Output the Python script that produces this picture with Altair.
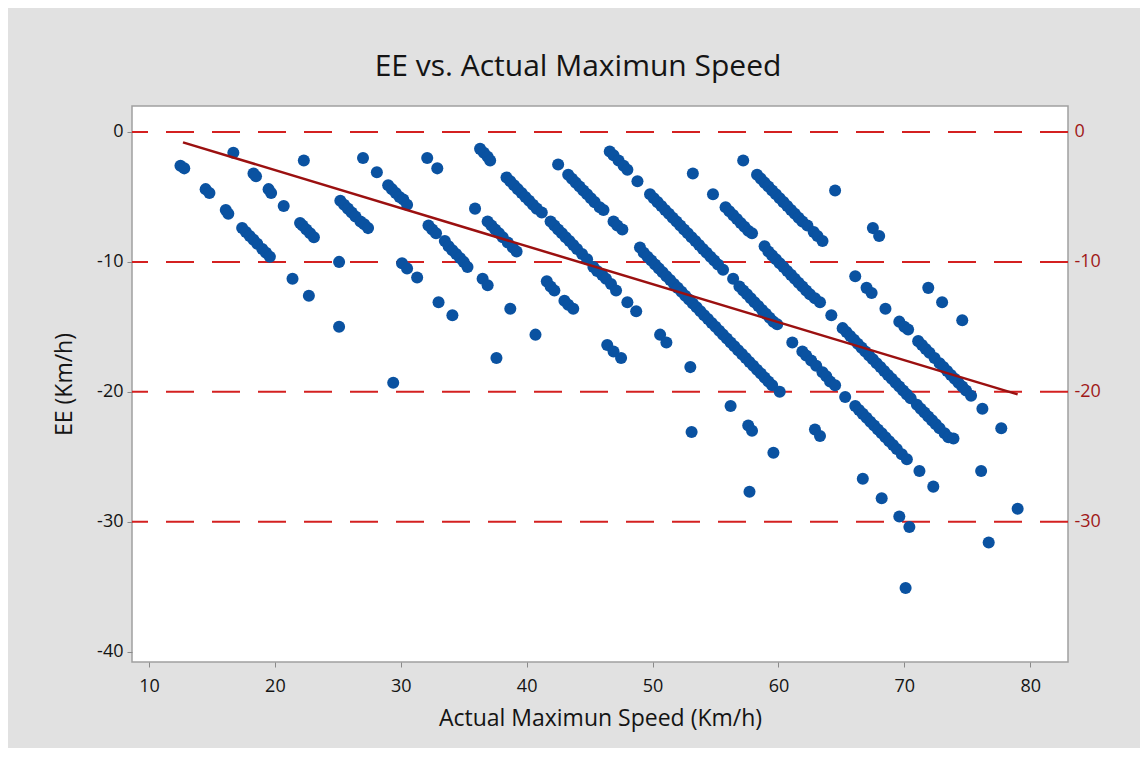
import altair as alt
import pandas as pd

# ---- data (x = actual max speed, y = EE) ----
band10_x = [12.5, 12.8, 14.5, 14.8, 16.1, 16.3, 17.4, 17.7, 18.0, 18.3, 18.6, 19.0, 19.3, 19.6, 21.4, 22.7, 25.1, 29.4]
band10_y = [-2.6, -2.8, -4.4, -4.7, -6.0, -6.3, -7.4, -7.7, -8.0, -8.3, -8.6, -9.0, -9.3, -9.6, -11.3, -12.6, -15.0, -19.3]

band15_x = [16.7, 18.3, 18.5, 19.5, 19.7, 20.7, 22.0, 22.2, 22.5, 22.8, 23.1, 25.1]
band15_y = [-1.6, -3.2, -3.4, -4.4, -4.7, -5.7, -7.0, -7.2, -7.5, -7.8, -8.1, -10.0]

band20_x = [22.3, 25.2, 25.5, 25.8, 26.1, 26.4, 26.8, 27.1, 27.4, 30.1, 30.5, 31.3, 33.0, 34.1, 37.6]
band20_y = [-2.2, -5.3, -5.6, -5.9, -6.2, -6.5, -6.9, -7.1, -7.4, -10.1, -10.5, -11.2, -13.1, -14.1, -17.4]

band25_x = [27.0, 28.1, 29.0, 29.3, 29.6, 29.9, 30.2, 30.5, 32.2, 32.5, 32.8, 33.5, 33.8, 34.1, 34.4, 34.7, 35.0, 35.3, 36.5, 36.9, 38.7, 40.7]
band25_y = [-2.0, -3.1, -4.1, -4.4, -4.7, -5.0, -5.2, -5.6, -7.2, -7.5, -7.8, -8.4, -8.8, -9.1, -9.4, -9.7, -10.0, -10.4, -11.3, -11.8, -13.6, -15.6]

band30_x = [32.1, 32.9, 35.9, 36.9, 37.2, 37.5, 37.8, 38.1, 38.5, 38.9, 39.2, 41.6, 41.9, 42.2, 43.0, 43.3, 43.7, 46.4, 46.9, 47.5, 53.1, 57.7]
band30_y = [-2.0, -2.8, -5.9, -6.9, -7.2, -7.5, -7.8, -8.1, -8.5, -8.9, -9.2, -11.5, -11.9, -12.2, -13.0, -13.3, -13.6, -16.4, -16.9, -17.4, -23.1, -27.7]

band35_x = [36.3, 36.6, 36.9, 37.1, 38.4, 38.7, 39.0, 39.3, 39.6, 39.9, 40.2, 40.5, 40.8, 41.2,
            41.9, 42.2, 42.5, 42.8, 43.1, 43.4, 43.7, 44.0, 44.4, 44.8, 45.3, 45.6, 46.0, 46.3, 46.7, 47.1,
            48.0, 48.7, 50.6, 51.1, 53.0, 56.2, 57.6, 57.9, 59.6, 70.1]
band35_y = [-1.3, -1.6, -1.9, -2.2, -3.5, -3.8, -4.1, -4.4, -4.7, -5.0, -5.3, -5.6, -5.9, -6.2,
            -6.9, -7.2, -7.5, -7.8, -8.1, -8.4, -8.7, -9.0, -9.4, -9.8, -10.4, -10.7, -11.0, -11.3, -11.7, -12.2,
            -13.1, -13.8, -15.6, -16.2, -18.1, -21.1, -22.6, -23.0, -24.7, -35.1]

band40_x = [42.5, 43.3, 43.6, 43.9, 44.2, 44.5, 44.8, 45.1, 45.4, 45.8, 46.1, 46.9, 47.2, 47.6,
            49.0, 49.3, 49.6, 49.9, 50.2, 50.5, 50.8, 51.1, 51.4, 51.7, 52.0, 52.3, 52.6, 52.9, 53.2,
            53.5, 53.8, 54.1, 54.4, 54.7, 55.0, 55.3, 55.6, 55.9, 56.2, 56.5, 56.8, 57.1, 57.4, 57.7,
            58.0, 58.3, 58.6, 58.9, 59.2, 59.5, 60.1, 62.9, 63.3, 66.7, 68.2, 69.6, 70.4]
band40_y = [-2.5, -3.3, -3.6, -3.9, -4.2, -4.5, -4.8, -5.1, -5.4, -5.8, -6.0, -6.9, -7.2, -7.5,
            -8.9, -9.3, -9.6, -9.9, -10.2, -10.5, -10.8, -11.1, -11.4, -11.7, -12.0, -12.3, -12.6, -12.9, -13.2,
            -13.5, -13.8, -14.1, -14.4, -14.7, -15.0, -15.3, -15.6, -15.9, -16.2, -16.5, -16.8, -17.1, -17.4, -17.7,
            -18.0, -18.3, -18.6, -18.9, -19.2, -19.5, -20.0, -22.9, -23.4, -26.7, -28.2, -29.6, -30.4]

band45_x = [46.6, 46.9, 47.3, 47.7, 48.0, 48.8,
            49.8, 50.1, 50.4, 50.7, 51.0, 51.3, 51.6, 51.9, 52.2, 52.5, 52.8, 53.1, 53.4, 53.7, 54.0,
            54.3, 54.6, 54.9, 55.2, 55.6, 56.4, 56.9, 57.2, 57.5, 57.8, 58.1, 58.4, 58.7, 59.0, 59.3,
            59.6, 59.9, 61.1, 61.9, 62.2, 62.6, 63.0, 63.5, 63.8, 64.1, 64.5, 65.3, 66.1, 66.4, 66.7,
            67.0, 67.3, 67.6, 67.9, 68.2, 68.5, 68.8, 69.1, 69.4, 69.8, 70.2, 71.2, 72.3, 76.7]
band45_y = [-1.5, -1.8, -2.2, -2.6, -2.9, -3.8,
            -4.8, -5.1, -5.4, -5.7, -6.0, -6.3, -6.6, -6.9, -7.2, -7.5, -7.8, -8.1, -8.4, -8.7, -9.0,
            -9.3, -9.6, -9.9, -10.2, -10.6, -11.3, -11.9, -12.2, -12.5, -12.8, -13.1, -13.4, -13.7, -14.0, -14.3,
            -14.6, -14.8, -16.2, -16.9, -17.2, -17.6, -18.0, -18.5, -18.8, -19.2, -19.5, -20.4, -21.1, -21.4, -21.7,
            -22.0, -22.3, -22.6, -22.9, -23.2, -23.5, -23.8, -24.1, -24.4, -24.8, -25.2, -26.1, -27.3, -31.6]

band50_x = [53.2, 54.8, 55.8, 56.1, 56.4, 56.7, 57.0, 57.3, 57.6, 57.9,
            58.9, 59.2, 59.5, 59.8, 60.1, 60.4, 60.7, 61.0, 61.3, 61.6, 61.9, 62.2, 62.5, 62.9, 63.3, 64.2,
            65.1, 65.4, 65.7, 66.0, 66.3, 66.6, 66.9, 67.2, 67.5, 67.8, 68.1, 68.4, 68.7, 69.0, 69.3,
            69.6, 69.9, 70.2, 70.5, 71.0, 71.3, 71.6, 71.9, 72.2, 72.5, 72.8, 73.2, 73.5, 73.9, 76.1, 79.0]
band50_y = [-3.2, -4.8, -5.8, -6.1, -6.4, -6.7, -7.0, -7.3, -7.6, -7.8,
            -8.8, -9.2, -9.5, -9.8, -10.1, -10.4, -10.7, -11.0, -11.3, -11.6, -11.9, -12.2, -12.5, -12.8, -13.1, -14.1,
            -15.1, -15.4, -15.7, -16.0, -16.3, -16.6, -16.9, -17.2, -17.5, -17.8, -18.1, -18.4, -18.7, -19.0, -19.3,
            -19.6, -19.9, -20.2, -20.5, -21.0, -21.3, -21.6, -21.9, -22.2, -22.5, -22.8, -23.2, -23.5, -23.6, -26.1, -29.0]

band55_x = [57.2, 58.3, 58.6, 58.9, 59.2, 59.5, 59.8, 60.1, 60.4, 60.7, 61.0, 61.3, 61.6, 61.9, 62.3,
            62.8, 63.1, 63.5, 66.1, 67.0, 67.4, 68.5, 69.6, 70.0, 70.3, 71.1, 71.4, 71.7, 72.0, 72.4,
            72.8, 73.1, 73.4, 73.7, 74.0, 74.3, 74.6, 74.9, 75.3, 76.2, 77.7]
band55_y = [-2.2, -3.3, -3.6, -3.9, -4.2, -4.5, -4.8, -5.1, -5.4, -5.7, -6.0, -6.3, -6.6, -6.9, -7.2,
            -7.7, -8.0, -8.4, -11.1, -12.0, -12.4, -13.6, -14.6, -15.0, -15.2, -16.1, -16.4, -16.7, -17.0, -17.4,
            -17.8, -18.1, -18.4, -18.7, -19.0, -19.3, -19.6, -19.9, -20.3, -21.3, -22.8]

band60_x = [64.5, 67.5, 68.0, 71.9, 73.0, 74.6]
band60_y = [-4.5, -7.4, -8.0, -12.0, -13.1, -14.5]

# fitted regression line end points
fit_x = [12.7, 79.0]
fit_y = [-0.8, -20.2]

# reference lines
ref_levels = [0, -10, -20, -30]
x_ticks = [10, 20, 30, 40, 50, 60, 70, 80]
y_ticks = [0, -10, -20, -30, -40]

all_x = (band10_x + band15_x + band20_x + band25_x + band30_x + band35_x +
         band40_x + band45_x + band50_x + band55_x + band60_x)
all_y = (band10_y + band15_y + band20_y + band25_y + band30_y + band35_y +
         band40_y + band45_y + band50_y + band55_y + band60_y)

pts = pd.DataFrame({"speed": all_x, "ee": all_y})
fit = pd.DataFrame({"speed": fit_x, "ee": fit_y})
refs = pd.DataFrame({"ee": ref_levels})

X_DOM = [8.65, 83.0]
Y_DOM = [-40.8, 2.0]
FONT = "Open Sans"
TXT = "#141414"

xscale = alt.Scale(domain=X_DOM, nice=False, zero=False)
yscale = alt.Scale(domain=Y_DOM, nice=False, zero=False)

x_axis = alt.Axis(values=x_ticks, title="Actual Maximun Speed (Km/h)", grid=False,
                  domain=False, tickColor="#8A8A8A", tickSize=5,
                  labelFontSize=18, labelFont=FONT, labelColor=TXT,
                  labelPadding=10, titleFontSize=23, titleFont=FONT,
                  titleFontWeight=500, titleColor=TXT, titlePadding=12)

ref_layer = alt.Chart(refs).mark_rule(
    color="#D42020", strokeWidth=2, strokeDash=[28, 18]
).encode(
    y=alt.Y("ee:Q", scale=yscale,
            axis=alt.Axis(orient="right", values=ref_levels, title=None, ticks=False,
                          domain=False, grid=False, labelColor="#A01818",
                          labelExpr="'' + datum.value",
                          labelFontSize=18, labelFont=FONT, labelPadding=6))
)

pt_layer = alt.Chart(pts).mark_circle(size=145, opacity=1, color="#0A52A1").encode(
    x=alt.X("speed:Q", scale=xscale, axis=x_axis),
    y=alt.Y("ee:Q", scale=yscale,
            axis=alt.Axis(values=y_ticks, title="EE (Km/h)", grid=False, domain=False,
                          labelExpr="'' + datum.value",
                          tickColor="#8A8A8A", tickSize=5, labelFontSize=18, labelFont=FONT,
                          labelColor=TXT, labelPadding=4, titleFontSize=23,
                          titleFont=FONT, titleFontWeight=500, titleColor=TXT,
                          titlePadding=20))
)

fit_layer = alt.Chart(fit).mark_line(color="#9B1010", strokeWidth=2.5).encode(
    x=alt.X("speed:Q", scale=xscale, axis=x_axis),
    y=alt.Y("ee:Q", scale=yscale, axis=None)
)

chart = alt.layer(ref_layer, pt_layer, fit_layer).resolve_scale(
    y="independent"
).properties(
    width=936, height=556,
    padding={"left": 124, "top": 98, "right": 72, "bottom": 86},
    autosize=alt.AutoSizeParams(type="none"),
    background="#E1E1E1",
    title=alt.TitleParams("EE vs. Actual Maximun Speed", fontSize=30, font=FONT,
                          fontWeight=500, color=TXT, anchor="middle",
                          dx=-22, offset=24)
).configure_view(
    fill="white", stroke="#A0A0A0", strokeWidth=1.5
)

chart.save("out.html", embed_options={"renderer": "svg", "actions": False})
